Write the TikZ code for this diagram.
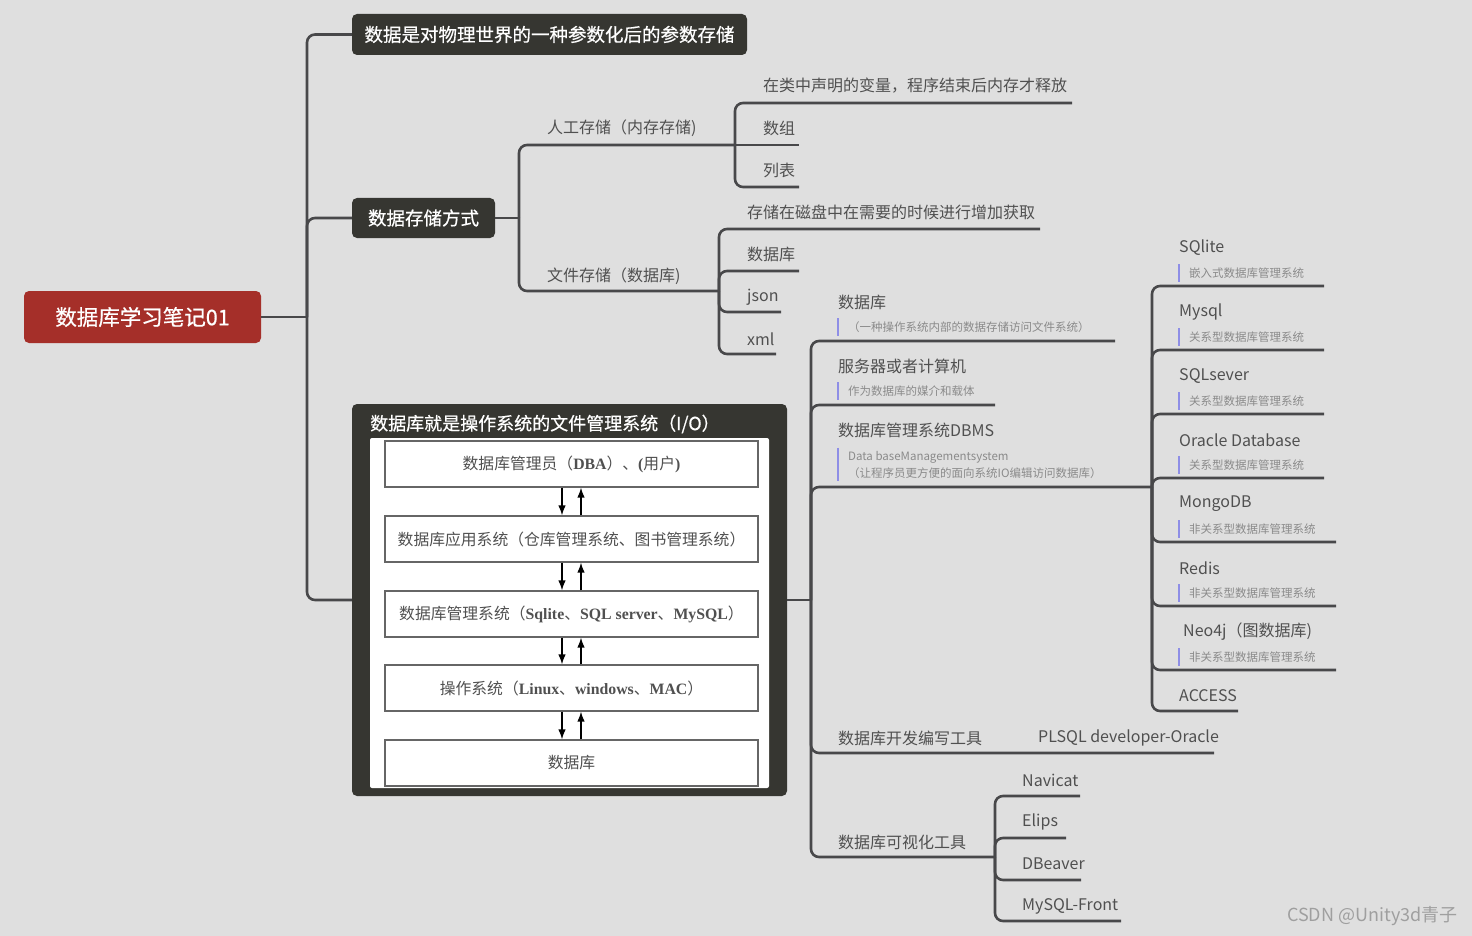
\documentclass[tikz,border=0pt]{standalone}
\usepackage{fontspec}
\setmainfont{Noto Sans CJK SC}
\newfontfamily\titlefont{Noto Sans CJK SC}[FakeBold=0.6]
\newfontfamily\serifen{Liberation Serif}
\usetikzlibrary{arrows.meta}
\definecolor{bg}{HTML}{DFDFDF}
\definecolor{linegray}{HTML}{48484A}
\definecolor{darkbox}{HTML}{363631}
\definecolor{rootred}{HTML}{A52F29}
\definecolor{leaftext}{HTML}{505050}
\definecolor{notetext}{HTML}{8A8A8A}
\definecolor{barblue}{HTML}{8E8EE6}

\begin{document}
\begin{tikzpicture}[x=1pt,y=-1pt,
  link/.style={draw=linegray,line width=2.6pt,rounded corners=8pt},
  rootbox/.style={fill=rootred,rounded corners=5pt,text=white,minimum width=237pt,minimum height=52pt,font=\fontsize{21.5}{25}\titlefont},
  topic/.style={fill=darkbox,rounded corners=5pt,text=white,font=\fontsize{18.5}{22}\titlefont},
  leaf/.style={anchor=west,inner sep=0pt,text=leaftext,font=\fontsize{16}{19}\selectfont},
  note/.style={anchor=west,inner xsep=0pt,inner ysep=3pt,text=notetext,font=\fontsize{11.5}{17}\selectfont},
  bar/.style={draw=barblue,line width=2pt},
  layer/.style={draw=gray!80!black,line width=1.2pt,fill=white,minimum width=373pt,minimum height=46pt,text=leaftext,font=\fontsize{15.8}{19}\selectfont},
  flow/.style={line width=1.4pt,-{Latex[length=10pt,width=7.5pt]}}]
\fill[bg] (0,0) rectangle (1472,936);

\node[rootbox] (root) at (142.5,317) {数据库学习笔记01};
\node[topic,minimum width=395pt,minimum height=41pt] (b1) at (549.5,34.5) {数据是对物理世界的一种参数化后的参数存储};
\node[topic,minimum width=143pt,minimum height=40pt] (b2) at (423.5,218) {数据存储方式};
\node[fill=darkbox,rounded corners=5pt,minimum width=435pt,minimum height=392pt] (b3) at (569.5,600) {};
\node[anchor=west,inner sep=0pt,text=white,font=\fontsize{18}{22}\titlefont] (t3) at (370,424) {数据库就是操作系统的文件管理系统（I/O）};
\node[fill=white,rounded corners=2pt,minimum width=399pt,minimum height=350pt] (panel) at (569.5,613) {};

\coordinate (j1) at (307,317);
\draw[link] (root.east) -- (j1);
\draw[link] (j1) |- (b1.west);
\draw[link] (j1) |- (b2.west);
\draw[link] (j1) |- (b3.west);

\node[layer] (l1) at (571.5,464) {数据库管理员（{\serifen\bfseries DBA}）、{\serifen\bfseries(}用户{\serifen\bfseries)}};
\node[layer] (l2) at (571.5,539) {数据库应用系统（仓库管理系统、图书管理系统）};
\node[layer] (l3) at (571.5,614) {数据库管理系统（{\serifen\bfseries Sqlite}、{\serifen\bfseries SQL server}、{\serifen\bfseries MySQL}）};
\node[layer] (l4) at (571.5,688) {操作系统（{\serifen\bfseries Linux}、{\serifen\bfseries windows}、{\serifen\bfseries MAC}）};
\node[layer] (l5) at (571.5,763) {数据库};
\foreach \a/\b in {l1/l2,l2/l3,l3/l4,l4/l5} {
  \draw[flow] ([xshift=-9.5pt]\a.south) -- ([xshift=-9.5pt]\b.north);
  \draw[flow] ([xshift=9.5pt]\b.north) -- ([xshift=9.5pt]\a.south);
}

\coordinate (j2) at (519,218);
\draw[link] (b2.east) -- (j2);
\node[leaf] (man) at (547,128) {人工存储（内存存储)};
\coordinate (j3) at (735,145);
\draw[link] (j2) |- (j3);
\node[leaf] (var) at (763,86) {在类中声明的变量，程序结束后内存才释放};
\node[leaf] (arr) at (763,128) {数组};
\node[leaf] (lst) at (763,170) {列表};
\coordinate (var-e) at (1072,103);
\coordinate (arr-e) at (799,145);
\coordinate (lst-e) at (799,187);
\draw[link] (j3) |- (var-e);
\draw[link] (j3) -- (arr-e);
\draw[link] (j3) |- (lst-e);

\node[leaf] (file) at (547,276) {文件存储（数据库)};
\coordinate (j4) at (719,291);
\draw[link] (j2) |- (j4);
\node[leaf] (disk) at (747,212) {存储在磁盘中在需要的时候进行增加获取};
\node[leaf] (fdb) at (747,254) {数据库};
\node[leaf] (json) at (747,297) {json};
\node[leaf] (xml) at (747,339) {xml};
\coordinate (disk-e) at (1040,229);
\coordinate (fdb-e) at (799,271);
\coordinate (json-e) at (781,312);
\coordinate (xml-e) at (776,354);
\draw[link] (j4) |- (disk-e);
\draw[link] (j4) |- (fdb-e);
\draw[link] (j4) |- (json-e);
\draw[link] (j4) |- (xml-e);

\coordinate (j5) at (811,600);
\draw[link] (b3.east) -- (j5);
\node[leaf] (db) at (838,302) {数据库};
\node[note] (dbn) at (848,327) {（一种操作系统内部的数据存储访问文件系统）};
\node[leaf] (srv) at (838,366) {服务器或者计算机};
\node[note] (srvn) at (848,391) {作为数据库的媒介和载体};
\node[leaf] (dbms) at (838,430) {数据库管理系统DBMS};
\node[note,align=left] (dbmsn) at (848,464.5) {Data baseManagementsystem\\（让程序员更方便的面向系统IO编辑访问数据库）};
\node[leaf] (dev) at (838,738) {数据库开发编写工具};
\node[leaf] (plsql) at (1038,738) {PLSQL developer-Oracle};
\node[leaf] (vis) at (838,842) {数据库可视化工具};
\coordinate (db-e) at (1115,341);
\coordinate (srv-e) at (995,405);
\coordinate (j6) at (1152,487);
\coordinate (dev-e) at (1214,753);
\coordinate (j7) at (995,857);
\draw[link] (j5) |- (db-e);
\draw[link] (j5) |- (srv-e);
\draw[link] (j5) |- (j6);
\draw[link] (j5) |- (dev-e);
\draw[link] (j5) |- (j7);

\node[leaf] (s1) at (1179,248) {SQlite};
\node[note] (s1n) at (1189,273) {嵌入式数据库管理系统};
\node[leaf] (s2) at (1179,312) {Mysql};
\node[note] (s2n) at (1189,337) {关系型数据库管理系统};
\node[leaf] (s3) at (1179,376) {SQLsever};
\node[note] (s3n) at (1189,401) {关系型数据库管理系统};
\node[leaf] (s4) at (1179,440) {Oracle Database};
\node[note] (s4n) at (1189,465) {关系型数据库管理系统};
\node[leaf] (s5) at (1179,504) {MongoDB};
\node[note] (s5n) at (1189,529) {非关系型数据库管理系统};
\node[leaf] (s6) at (1179,568) {Redis};
\node[note] (s6n) at (1189,593) {非关系型数据库管理系统};
\node[leaf] (s7) at (1183,632) {Neo4j（图数据库)};
\node[note] (s7n) at (1189,657) {非关系型数据库管理系统};
\node[leaf] (s8) at (1179,696) {ACCESS};
\foreach \n/\x/\y in {s1/1324/286,s2/1324/350,s3/1324/414,s4/1324/478,s5/1336/542,s6/1336/606,s7/1336/670,s8/1238/711} {
  \coordinate (\n-e) at (\x,\y);
  \draw[link] (j6) |- (\n-e);
}
\foreach \n in {dbn,srvn,dbmsn,s1n,s2n,s3n,s4n,s5n,s6n,s7n}
  \draw[bar] ([xshift=-10pt]\n.north west) -- ([xshift=-10pt]\n.south west);

\node[leaf] (t1) at (1022,780) {Navicat};
\node[leaf] (t2) at (1022,822) {Elips};
\node[leaf] (t3) at (1022,864) {DBeaver};
\node[leaf] (t4) at (1022,906) {MySQL-Front};
\foreach \n/\x/\y in {t1/1080/796,t2/1066/838,t3/1081/880,t4/1121/921} {
  \coordinate (\n-e) at (\x,\y);
  \draw[link] (j7) |- (\n-e);
}

\node[anchor=west,inner sep=0pt,text=gray!75,font=\fontsize{18}{21}\selectfont] (mark) at (1287,916) {CSDN @Unity3d青子};
\end{tikzpicture}
\end{document}
